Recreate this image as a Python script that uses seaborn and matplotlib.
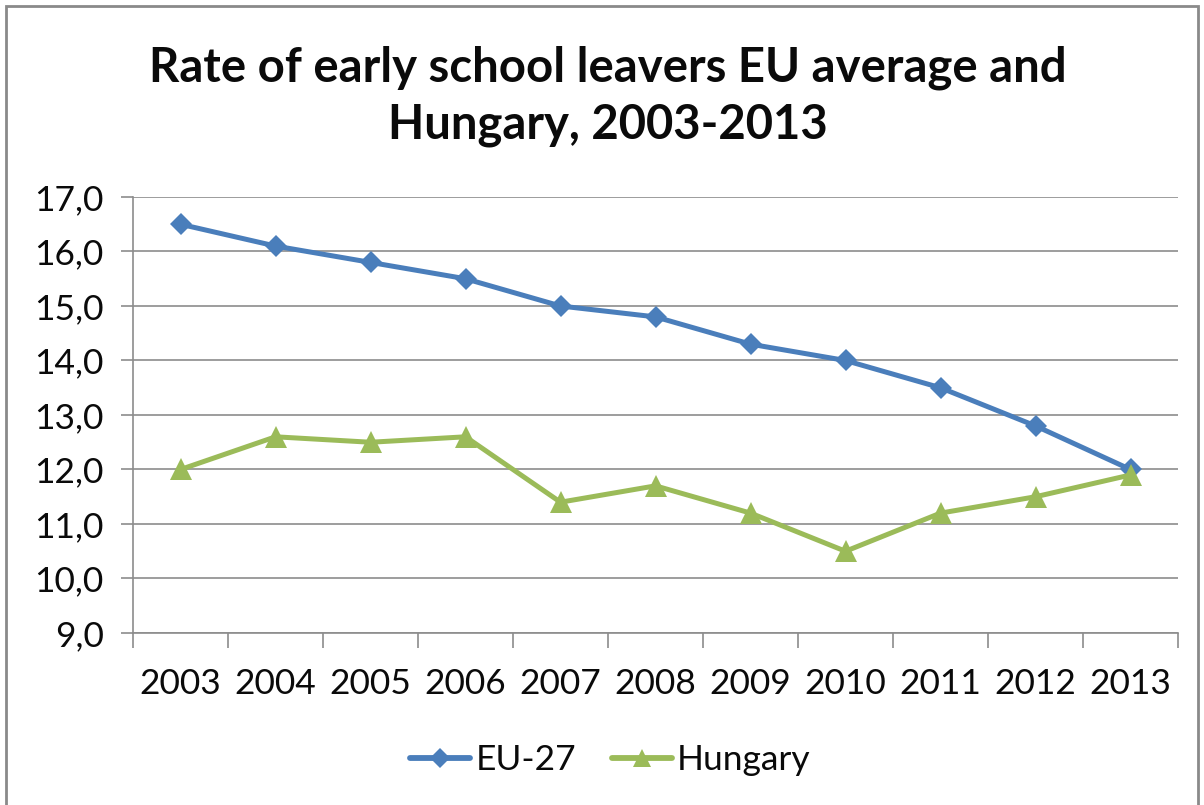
import numpy as np
import pandas as pd
import matplotlib
matplotlib.use("Agg")
import matplotlib.pyplot as plt
import matplotlib.patches as mpatches
from matplotlib.lines import Line2D
from matplotlib.ticker import FixedLocator, FuncFormatter
import seaborn as sns

years = ["2003", "2004", "2005", "2006", "2007", "2008", "2009", "2010", "2011", "2012", "2013"]
eu27 = [16.5, 16.1, 15.8, 15.5, 15.0, 14.8, 14.3, 14.0, 13.5, 12.8, 12.0]
hungary = [12.0, 12.6, 12.5, 12.6, 11.4, 11.7, 11.2, 10.5, 11.2, 11.5, 11.9]
series_names = ["EU-27", "Hungary"]
y_ticks = [9, 10, 11, 12, 13, 14, 15, 16, 17]
title = "Rate of early school leavers EU average and\nHungary, 2003-2013"

sns.set_theme(style="white")
plt.rcParams["font.family"] = ["Lato", "DejaVu Sans"]

pos = np.arange(len(years))
df = pd.concat([
    pd.DataFrame({"pos": pos, "rate": eu27, "series": series_names[0]}),
    pd.DataFrame({"pos": pos, "rate": hungary, "series": series_names[1]}),
])

blue = "#4A7EBB"
green = "#9BBB59"
text_c = "#0A0A0A"

fig = plt.figure(figsize=(12.04, 8.05), dpi=100)
ax = fig.add_axes([133 / 1204, 1 - 633 / 805, (1178 - 133) / 1204, (633 - 197) / 805])

sns.lineplot(data=df, x="pos", y="rate", hue="series", style="series",
             palette={series_names[0]: blue, series_names[1]: green},
             markers={series_names[0]: "D", series_names[1]: "^"},
             dashes=False, linewidth=3.6, markersize=11, markeredgewidth=0,
             ax=ax, legend=False)
# triangles drawn slightly larger than the diamonds
ax.lines[1].set_markersize(16)

ax.set_xlim(-0.5, len(years) - 0.5)
ax.set_ylim(min(y_ticks), max(y_ticks))
ax.set_xlabel("")
ax.set_ylabel("")

# gridlines and ticks
grid_c = "#8C8C8C"
ax.yaxis.set_major_locator(FixedLocator(y_ticks))
ax.yaxis.set_major_formatter(FuncFormatter(lambda v, p: f"{v:.1f}".replace(".", ",")))
ax.grid(axis="y", color=grid_c, linewidth=1.2)
ax.set_axisbelow(True)

ax.xaxis.set_major_locator(FixedLocator(np.arange(-0.5, len(years), 1.0)))
ax.xaxis.set_major_formatter(FuncFormatter(lambda v, p: ""))
ax.xaxis.set_minor_locator(FixedLocator(pos))
ax.set_xticklabels(years, minor=True)

ax.tick_params(axis="y", which="major", direction="out", length=9, width=1.2,
               color=grid_c, labelsize=25.5, pad=12, left=True, labelcolor=text_c)
ax.tick_params(axis="x", which="major", direction="out", length=11, width=1.2,
               color=grid_c, bottom=True)
ax.tick_params(axis="x", which="minor", length=0, labelsize=25.5, pad=25,
               labelcolor=text_c)

for side in ["top", "right"]:
    ax.spines[side].set_visible(False)
for side in ["left", "bottom"]:
    ax.spines[side].set_color(grid_c)
    ax.spines[side].set_linewidth(1.2)

fig.text(0.505, 1 - 96 / 805, title, ha="center", va="center",
         fontsize=34, fontweight="bold", color=text_c, linespacing=1.35)

# legend
handles = [
    Line2D([], [], color=blue, marker="D", markersize=10, markeredgewidth=0, linewidth=4.2),
    Line2D([], [], color=green, marker="^", markersize=13, markeredgewidth=0, linewidth=4.2),
]
fig.legend(handles, series_names, loc="center", bbox_to_anchor=(0.507, 1 - 760 / 805),
           ncol=2, frameon=False, fontsize=25.5, handlelength=1.7, handletextpad=0.15,
           columnspacing=1.0, labelcolor=text_c)

# chart border
border = mpatches.Rectangle((6 / 1204, -0.05), (1198 - 6) / 1204, 1 - 6 / 805 + 0.05,
                            transform=fig.transFigure, fill=False,
                            edgecolor="#8A8A8A", linewidth=2.0)
fig.patches.append(border)

fig.savefig("out.png", dpi=100, facecolor="white")
